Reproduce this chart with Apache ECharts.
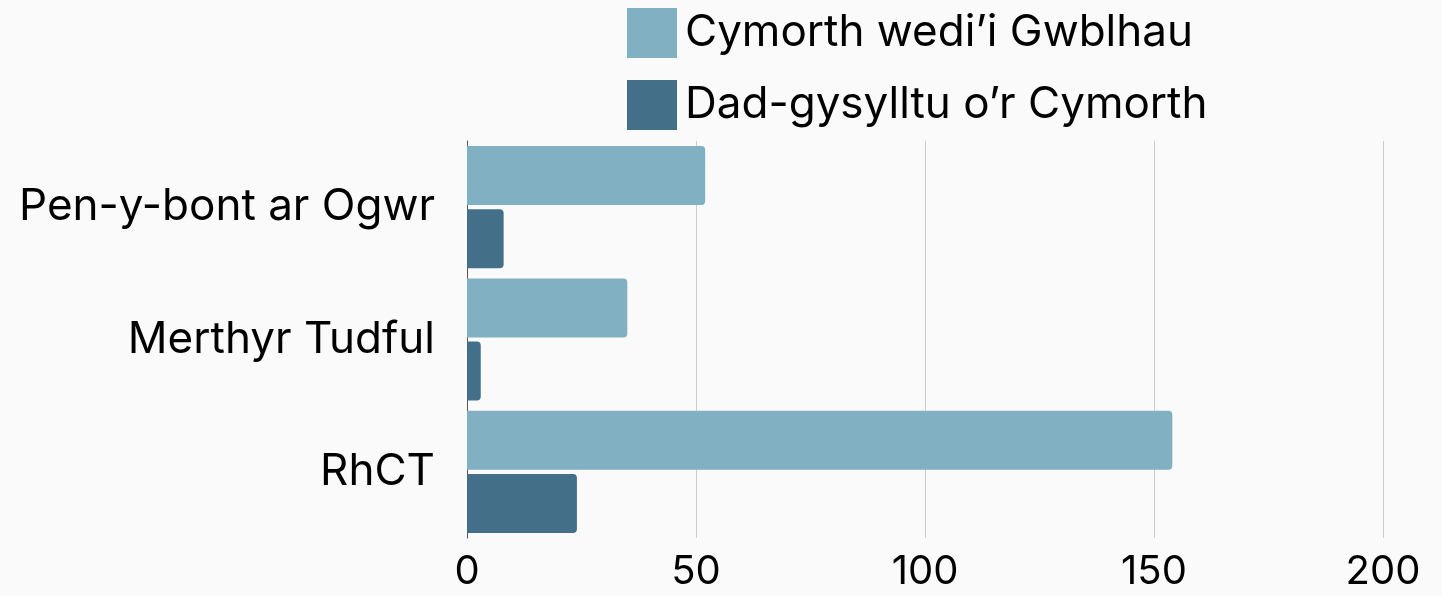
<!DOCTYPE html>
<html>
<head>
<meta charset="utf-8">
<script src="https://cdn.jsdelivr.net/npm/echarts@6/dist/echarts.min.js"></script>
<style>
html,body{margin:0;padding:0;background:#fafafa;}
#c{width:1442px;height:596px;}
</style>
</head>
<body>
<div id="c"></div>
<script>
const categories = ['Pen-y-bont ar Ogwr', 'Merthyr Tudful', 'RhCT'];
const completed = [52, 35, 154];
const disengaged = [8, 3, 24];
const seriesNames = ['Cymorth wedi’i Gwblhau', 'Dad-gysylltu o’r Cymorth'];
const xTicks = [0, 50, 100, 150, 200];

const FONT = 'Inter';
const chart = echarts.init(document.getElementById('c'));
chart.setOption({
  backgroundColor: '#fafafa',
  animation: false,
  legend: {
    orient: 'vertical',
    left: 622,
    top: 3,
    itemWidth: 50,
    itemHeight: 50,
    itemGap: 22,
    icon: 'rect',
    textStyle: { fontFamily: FONT, fontSize: 44, color: '#000', padding: [0,0,0,3] },
    data: seriesNames
  },
  grid: { left: 467, right: 59, top: 141, bottom: 58, containLabel: false },
  xAxis: {
    type: 'value',
    min: xTicks[0],
    max: xTicks[xTicks.length - 1],
    interval: 50,
    axisLine: { show: false },
    axisTick: { show: false },
    splitLine: { show: true, lineStyle: { color: '#cccccc', width: 1 } },
    axisLabel: { fontFamily: FONT, fontSize: 40, color: '#000', margin: 14 }
  },
  yAxis: {
    type: 'category',
    inverse: true,
    data: categories,
    axisLine: { show: true, lineStyle: { color: '#555', width: 1 } },
    axisTick: { show: false },
    axisLabel: { fontFamily: FONT, fontSize: 44, color: '#000', margin: 32 }
  },
  series: [
    {
      name: seriesNames[0],
      type: 'bar',
      data: completed,
      barWidth: 59,
      barGap: '7%',
      itemStyle: { color: '#80b0c2', borderRadius: [0, 4, 4, 0] }
    },
    {
      name: seriesNames[1],
      type: 'bar',
      data: disengaged,
      barWidth: 59,
      barGap: '7%',
      itemStyle: { color: '#446f88', borderRadius: [0, 4, 4, 0] }
    }
  ]
});
</script>
</body>
</html>
